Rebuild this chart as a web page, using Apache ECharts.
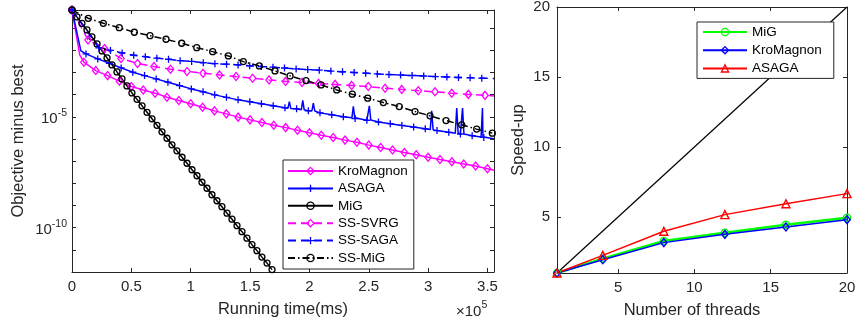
<!DOCTYPE html>
<html>
<head>
<meta charset="utf-8">
<script src="https://cdn.jsdelivr.net/npm/echarts@6.0.0/dist/echarts.min.js"></script>
<style>html,body{margin:0;padding:0;background:#fff;}#chart{width:855px;height:324px;}</style>
</head>
<body>
<div id="chart"></div>
<script>
// ---------- Left panel: objective minus best vs running time ----------
// times are given in units of 1e4 ms
const TIME_UNIT = 1e4;

const kroTime = [0,0.65,1,2,3,4,5,6,7,8,9,10,11,12,13,14,15,16,17,18,19,20,21,22,23,24,25,26,27,28,29,30,31,32,33,34,35,35.55];
const kroObj  = [0.66,6.2e-3,2.91e-3,1.22e-3,7.24e-4,4.06e-4,2.32e-4,1.64e-4,1.17e-4,7.7e-5,5.42e-5,3.86e-5,2.68e-5,1.86e-5,1.36e-5,9.7e-6,7.3e-6,5.5e-6,4.14e-6,3.26e-6,2.47e-6,1.90e-6,1.47e-6,1.17e-6,8.9e-7,7.1e-7,5.3e-7,4.1e-7,3.16e-7,2.47e-7,1.94e-7,1.50e-7,1.18e-7,9.4e-8,7.5e-8,6.0e-8,4.55e-8,3.9e-8];
const kroPlain = [1,37];

const asagaTime = [0,0.75,1.18,2.17,3.15,4.14,5.12,6.11,7.09,8.08,9.06,10.05,11.04,12.02,13.01,13.99,14.98,15.96,16.95,17.94,18.92,19.91,20.89,21.88,22.86,23.85,24.84,25.82,26.81,27.79,28.78,29.76,30.75,31.74,32.72,33.71,34.69,35.55];
const asagaObj  = [0.66,9.4e-3,6.89e-3,4.10e-3,2.62e-3,1.61e-3,1.03e-3,7.24e-4,5.15e-4,3.66e-4,2.57e-4,1.82e-4,1.34e-4,9.8e-5,7.55e-5,5.83e-5,4.84e-5,3.86e-5,3.13e-5,2.54e-5,2.29e-5,1.86e-5,1.51e-5,1.23e-5,1.0e-5,8.4e-6,7.03e-6,5.83e-6,4.89e-6,4.10e-6,3.44e-6,2.88e-6,2.39e-6,2.00e-6,1.68e-6,1.41e-6,1.18e-6,1.02e-6];
const asagaPlain = [1,37];
// short spikes in the ASAGA curve: [time, value]
const asagaSpikes = [
  [18.19,2.45e-5],[18.31,4.89e-5],[18.43,2.4e-5],
  [19.32,2.1e-5],[19.44,5.53e-5],[19.56,2.08e-5],
  [20.21,1.87e-5],[20.33,4.14e-5],[20.45,1.84e-5],
  [23.58,9.2e-6],[23.70,2.97e-5],[23.82,9.0e-6],
  [24.93,7.3e-6],[25.05,3.13e-5],[25.17,7.2e-6],
  [30.18,2.65e-6],[30.30,1.86e-5],[30.42,2.6e-6],
  [32.29,1.82e-6],[32.41,2.47e-5],[32.53,1.8e-6],
  [32.78,1.7e-6],[32.90,2.47e-5],[33.02,1.67e-6],
  [34.46,1.24e-6],[34.58,2.47e-5],[34.62,1.22e-6]
];

const migTime = [0,0.42,0.84,1.26,1.68,2.11,2.53,2.95,3.37,3.79,4.21,4.63,5.05,5.48,5.90,6.32,6.74,7.16,7.58,8.00,8.42,8.84,9.27,9.69,10.11,10.53,10.95,11.37,11.79,12.21,12.63,13.06,13.48,13.90,14.32,14.74,15.16,15.58,16.00,16.43,16.85];
const migObj  = [0.661,0.320,0.163,8.3e-2,4.02e-2,1.94e-2,9.4e-3,4.55e-3,2.20e-3,1.06e-3,5.15e-4,2.49e-4,1.20e-4,6.14e-5,3.13e-5,1.60e-5,8.13e-6,4.14e-6,2.11e-6,1.08e-6,5.48e-7,2.94e-7,1.50e-7,8.04e-8,4.10e-8,2.20e-8,1.12e-8,6.01e-9,3.06e-9,1.64e-9,8.83e-10,4.50e-10,2.41e-10,1.23e-10,6.61e-11,3.37e-11,1.71e-11,9.2e-12,4.69e-12,2.52e-12,1.28e-12];
const migPlain = [];

const svrgTime = [0,1.35,2.74,4.13,5.52,6.91,8.30,9.69,11.04,12.43,13.82,15.21,16.60,17.99,19.38,20.77,22.16,23.56,24.96,26.37,27.78,29.17,30.58,31.99,33.39,34.79,35.55];
const svrgObj  = [0.66,2.94e-2,1.22e-2,4.31e-3,2.57e-3,1.85e-3,1.41e-3,1.12e-3,9.3e-4,7.80e-4,6.53e-4,5.53e-4,4.64e-4,3.97e-4,3.58e-4,3.23e-4,2.91e-4,2.62e-4,2.32e-4,1.96e-4,1.73e-4,1.51e-4,1.34e-4,1.17e-4,1.03e-4,9.3e-5,8.8e-5];
const svrgPlain = [26];

const ssagaTime = [0,2.27,3.24,4.22,5.20,6.18,7.15,8.13,9.11,10.08,11.06,12.04,13.02,13.99,14.97,15.95,16.93,17.90,18.88,19.86,20.83,21.81,22.79,23.77,24.74,25.72,26.70,27.68,28.65,29.63,30.61,31.58,32.56,33.54,34.52,35.55];
const ssagaObj  = [0.66,1.28e-2,9.9e-3,7.64e-3,6.01e-3,5.15e-3,4.41e-3,3.97e-3,3.40e-3,3.16e-3,2.76e-3,2.49e-3,2.37e-3,2.20e-3,2.02e-3,1.86e-3,1.73e-3,1.60e-3,1.45e-3,1.35e-3,1.27e-3,1.16e-3,1.08e-3,1.0e-3,9.3e-4,8.65e-4,8.13e-4,7.71e-4,7.33e-4,6.95e-4,6.53e-4,6.26e-4,5.96e-4,5.83e-4,5.53e-4,5.37e-4];
const ssagaPlain = [35];

const ssmigTime = [0,1.37,2.64,3.98,5.25,6.57,7.92,9.24,10.51,11.85,13.17,14.43,15.78,17.10,18.37,19.71,20.98,22.30,23.61,24.91,26.23,27.57,28.90,30.16,31.51,32.83,34.09,35.41];
const ssmigObj  = [0.66,0.279,0.166,0.105,6.53e-2,4.59e-2,3.16e-2,2.09e-2,1.32e-2,8.73e-3,5.60e-3,3.10e-3,1.98e-3,1.18e-3,7.03e-4,4.31e-4,2.76e-4,1.64e-4,1.05e-4,6.95e-5,4.40e-5,2.91e-5,1.73e-5,1.11e-5,6.81e-6,4.36e-6,2.79e-6,1.84e-6];
const ssmigPlain = [];

const leftTimeMax = 35.55;    // ×1e4 ms
const leftObjMin = 1e-12, leftObjMax = 0.66;
const leftLabelledDecades = [-5, -10];

// ---------- Right panel: speed-up vs number of threads ----------
const threads = [1,4,8,12,16,20];
const speedMiG = [1,2.03,3.29,3.88,4.45,4.95];
const speedKro = [1,1.95,3.17,3.76,4.29,4.81];
const speedAsaga = [1,2.26,3.98,5.17,5.95,6.67];
const idealThreads = [1,20];
const idealSpeed = [1,20];
const rightTicks = [5,10,15,20];

// ---------- styling ----------
const FONT = '"Liberation Sans", Arial, Helvetica, sans-serif';
const AX = '#262626';
const PLUS = 'path://M0,5L10,5M5,0L5,10';
const NOFILL = 'rgba(0,0,0,0)';

function buildData(time, vals, plain, extra) {
  let arr = time.map((t, i) => {
    const it = { value: [t * TIME_UNIT, vals[i]] };
    if (plain.indexOf(i) >= 0) it.symbol = 'none';
    return it;
  });
  if (extra) {
    arr = arr.concat(extra.map(p => ({ value: [p[0] * TIME_UNIT, p[1]], symbol: 'none' })));
    arr.sort((a, b) => a.value[0] - b.value[0]);
  }
  return arr;
}

function leftSeries(name, color, symbol, size, dash, time, vals, plain, extra) {
  return {
    type: 'line', name, xAxisIndex: 0, yAxisIndex: 0,
    data: buildData(time, vals, plain, extra),
    symbol, symbolSize: size, showSymbol: true, showAllSymbol: true,
    lineStyle: { color, width: 1.5, type: dash },
    itemStyle: { color: NOFILL, borderColor: color, borderWidth: 1.3 },
    emphasis: { disabled: true }, animation: false, z: 2
  };
}

function pairs(xs, ys) { return xs.map((x, i) => [x, ys[i]]); }

function rightSeries(name, color, symbol, size, width, ys) {
  return {
    type: 'line', name, xAxisIndex: 2, yAxisIndex: 2,
    data: pairs(threads, ys),
    symbol, symbolSize: size, showSymbol: true,
    lineStyle: { color, width },
    itemStyle: { color: NOFILL, borderColor: color, borderWidth: 1.4 },
    emphasis: { disabled: true }, animation: false
  };
}

const logLabel = v => {
  const e = Math.round(Math.log10(v));
  return leftLabelledDecades.indexOf(e) >= 0 ? '{b|10}{s|' + e + '}' : '';
};
const supRich = {
  b: { fontSize: 15, lineHeight: 19, verticalAlign: 'bottom', color: AX, fontFamily: FONT },
  s: { fontSize: 10.5, verticalAlign: 'top', color: AX, fontFamily: FONT }
};

const tickCommon = { show: true, inside: true, length: 4, lineStyle: { color: AX, width: 1 } };
const lineCommon = { show: true, onZero: false, lineStyle: { color: AX, width: 1 } };
const labelCommon = { color: AX, fontSize: 15, fontFamily: FONT };
const nameCommon = { color: AX, fontSize: 16.5, fontFamily: FONT };
const legendItemStyle = { color: NOFILL, borderColor: 'inherit', borderWidth: 1.3 };

const option = {
  backgroundColor: '#fff',
  animation: false,
  grid: [
    { left: 72, top: 10, width: 422, height: 262, outerBoundsMode: 'none', containLabel: false },
    { left: 557, top: 7, width: 290, height: 266, outerBoundsMode: 'none', containLabel: false }
  ],
  xAxis: [
    { type: 'value', gridIndex: 0, position: 'bottom', min: 0, max: leftTimeMax * TIME_UNIT, interval: 5e4,
      axisLine: lineCommon, axisTick: tickCommon, splitLine: { show: false },
      axisLabel: Object.assign({ margin: 7, showMaxLabel: false,
        formatter: v => (v % 5e4 === 0 ? String(v / 1e5) : '') }, labelCommon),
      name: 'Running time(ms)', nameLocation: 'middle', nameGap: 29, nameMoveOverlap: false,
      nameTextStyle: nameCommon },
    { type: 'value', gridIndex: 0, position: 'top', min: 0, max: leftTimeMax * TIME_UNIT, interval: 5e4,
      axisLine: lineCommon, axisTick: tickCommon, axisLabel: { show: false }, splitLine: { show: false } },
    { type: 'value', gridIndex: 1, position: 'bottom', min: 1, max: 20,
      axisLine: lineCommon, axisTick: Object.assign({ customValues: rightTicks }, tickCommon), splitLine: { show: false },
      axisLabel: Object.assign({ margin: 7, customValues: rightTicks }, labelCommon),
      name: 'Number of threads', nameLocation: 'middle', nameGap: 29, nameMoveOverlap: false,
      nameTextStyle: Object.assign({ padding: [0, 20, 0, 0] }, nameCommon) },
    { type: 'value', gridIndex: 1, position: 'top', min: 1, max: 20,
      axisLine: lineCommon, axisTick: Object.assign({ customValues: rightTicks }, tickCommon),
      axisLabel: { show: false }, splitLine: { show: false } }
  ],
  yAxis: [
    { type: 'log', logBase: 10, gridIndex: 0, position: 'left', min: leftObjMin, max: leftObjMax, interval: 1,
      axisLine: lineCommon, axisTick: tickCommon, splitLine: { show: false }, minorTick: { show: false },
      axisLabel: { margin: 5, formatter: logLabel, rich: supRich, showMinLabel: true, showMaxLabel: true },
      name: 'Objective minus best', nameLocation: 'middle', nameGap: 45.5, nameMoveOverlap: false,
      nameTextStyle: nameCommon },
    { type: 'log', logBase: 10, gridIndex: 0, position: 'right', min: leftObjMin, max: leftObjMax, interval: 1,
      axisLine: lineCommon, axisTick: tickCommon, splitLine: { show: false }, axisLabel: { show: false } },
    { type: 'value', gridIndex: 1, position: 'left', min: 1, max: 20,
      axisLine: lineCommon, axisTick: Object.assign({ customValues: rightTicks }, tickCommon), splitLine: { show: false },
      axisLabel: Object.assign({ margin: 7, customValues: rightTicks }, labelCommon),
      name: 'Speed-up', nameLocation: 'middle', nameGap: 30.5, nameMoveOverlap: false, nameTextStyle: nameCommon },
    { type: 'value', gridIndex: 1, position: 'right', min: 1, max: 20,
      axisLine: lineCommon, axisTick: Object.assign({ customValues: rightTicks }, tickCommon),
      axisLabel: { show: false }, splitLine: { show: false } }
  ],
  legend: [
    { data: ['KroMagnon', 'ASAGA', 'MiG', 'SS-SVRG', 'SS-SAGA', 'SS-MiG'],
      orient: 'vertical', left: 283, top: 160, selectedMode: false,
      backgroundColor: '#fff', borderColor: AX, borderWidth: 1, borderRadius: 0,
      padding: [4, 6, 4, 4], itemWidth: 45, itemHeight: 9, itemGap: 3.4,
      itemStyle: legendItemStyle,
      textStyle: { fontSize: 13.5, color: '#000', fontFamily: FONT } },
    { data: ['r-MiG', 'r-KroMagnon', 'r-ASAGA'],
      orient: 'vertical', left: 697, top: 22, selectedMode: false,
      backgroundColor: '#fff', borderColor: AX, borderWidth: 1, borderRadius: 0,
      padding: [3, 12, 3, 5], itemWidth: 44, itemHeight: 9, itemGap: 4.2,
      itemStyle: legendItemStyle,
      formatter: n => n.slice(2),
      textStyle: { fontSize: 13.5, color: '#000', fontFamily: FONT } }
  ],
  graphic: [
    { type: 'text', left: 456, top: 300, silent: true,
      style: { text: '{b|\u00d710}{s|5}', fill: AX, rich: supRich } }
  ],
  series: [
    leftSeries('KroMagnon', '#ff00ff', 'diamond', [6.5, 8], 'solid', kroTime, kroObj, kroPlain),
    leftSeries('ASAGA', '#0000ff', PLUS, 7, 'solid', asagaTime, asagaObj, asagaPlain, asagaSpikes),
    leftSeries('MiG', '#000000', 'circle', 6, 'solid', migTime, migObj, migPlain),
    leftSeries('SS-SVRG', '#ff00ff', 'diamond', [6.5, 8], [8, 5], svrgTime, svrgObj, svrgPlain),
    leftSeries('SS-SAGA', '#0000ff', PLUS, 7, [8, 5], ssagaTime, ssagaObj, ssagaPlain),
    leftSeries('SS-MiG', '#000000', 'circle', 6, [7, 3, 1.5, 3], ssmigTime, ssmigObj, ssmigPlain),
    { type: 'line', name: 'ideal', xAxisIndex: 2, yAxisIndex: 2, data: pairs(idealThreads, idealSpeed),
      symbol: 'none', lineStyle: { color: '#000', width: 1.2 }, emphasis: { disabled: true }, animation: false },
    rightSeries('r-MiG', '#00ff00', 'circle', 7, 2.5, speedMiG),
    rightSeries('r-KroMagnon', '#0000ff', 'diamond', [6.5, 8], 1.5, speedKro),
    rightSeries('r-ASAGA', '#ff0000', 'triangle', 8, 1.5, speedAsaga)
  ]
};

const chart = echarts.init(document.getElementById('chart'), null, { renderer: 'canvas' });
chart.setOption(option);
</script>
</body>
</html>
